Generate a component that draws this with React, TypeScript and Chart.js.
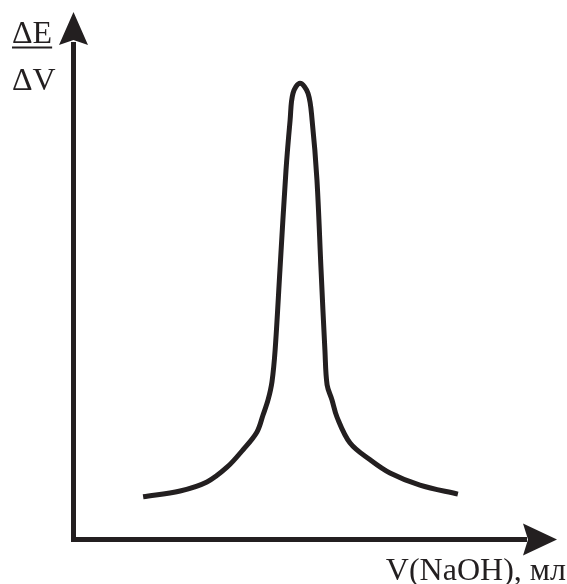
import React, { useEffect, useRef } from "react";
import { Chart, registerables } from "chart.js";

Chart.register(...registerables);

// Volume of NaOH, ml (estimated)
const volumes = [
  2.88, 4.41, 5.52, 6.35, 7.01, 7.59, 7.84, 8.05, 8.21, 8.34, 8.54, 8.79, 8.96, 9.08, 9.37,
  9.7, 9.87, 10.07, 10.24, 10.4, 10.49, 10.69, 10.9, 11.44, 12.27, 13.09, 14.33, 15.9,
];
// ΔE/ΔV values (estimated, arbitrary units)
const dEdV = [
  0.81, 0.92, 1.09, 1.37, 1.7, 2.04, 2.36, 2.65, 2.99, 3.59, 5.11, 7.0, 7.95, 8.46, 8.65,
  8.46, 7.95, 6.82, 5.11, 3.59, 2.93, 2.65, 2.32, 1.83, 1.51, 1.26, 1.03, 0.86,
];
const xRange = [0, 20];
const yRange = [0, 10];
const yLabelTop = "ΔE";
const yLabelBottom = "ΔV";
const xLabel = "V(NaOH), мл";

const INK = "#231f20";

const axesPlugin = {
  id: "arrowAxes",
  beforeDatasetsDraw(chart: any) {
    const { ctx, chartArea } = chart;
    const { left, right, top, bottom } = chartArea;
    ctx.save();
    ctx.strokeStyle = INK;
    ctx.fillStyle = INK;
    ctx.lineWidth = 5;
    ctx.lineCap = "butt";
    // y axis
    ctx.beginPath();
    ctx.moveTo(left, bottom + 2.5);
    ctx.lineTo(left, top + 30);
    ctx.stroke();
    // x axis
    ctx.beginPath();
    ctx.moveTo(left - 2.5, bottom);
    ctx.lineTo(right - 30, bottom);
    ctx.stroke();
    // y arrow head
    ctx.beginPath();
    ctx.moveTo(left, top);
    ctx.lineTo(left + 14.5, top + 33);
    ctx.lineTo(left, top + 28);
    ctx.lineTo(left - 14.5, top + 33);
    ctx.closePath();
    ctx.fill();
    // x arrow head
    ctx.beginPath();
    ctx.moveTo(right, bottom);
    ctx.lineTo(right - 34, bottom - 16);
    ctx.lineTo(right - 29, bottom);
    ctx.lineTo(right - 34, bottom + 16);
    ctx.closePath();
    ctx.fill();

    // labels
    ctx.font = "32px 'Liberation Serif', 'DejaVu Serif', serif";
    ctx.textBaseline = "alphabetic";
    ctx.textAlign = "left";
    ctx.fillText(yLabelTop, 12, 43);
    const w = ctx.measureText(yLabelTop).width;
    ctx.fillRect(12, 46.5, Math.max(w, 40), 2);
    ctx.fillText(yLabelBottom, 12, 90);
    ctx.font = "32px 'Liberation Serif', 'DejaVu Serif', serif";
    ctx.textAlign = "right";
    ctx.fillText(xLabel, 566, 580);
    ctx.restore();
  },
};

export default function App() {
  const ref = useRef<HTMLCanvasElement>(null);
  useEffect(() => {
    document.body.style.margin = "0";
    const chart = new Chart(ref.current!, {
      type: "line",
      data: {
        datasets: [
          {
            data: volumes.map((v, i) => ({ x: v, y: dEdV[i] })),
            borderColor: INK,
            borderWidth: 5,
            pointRadius: 0,
            tension: 0.35,
            fill: false,
          },
        ],
      },
      options: {
        animation: false,
        responsive: false,
        maintainAspectRatio: false,
        layout: { padding: { left: 73.5, right: 10, top: 12, bottom: 44.5 } },
        plugins: { legend: { display: false }, tooltip: { enabled: false } },
        scales: {
          x: { type: "linear", min: xRange[0], max: xRange[1], display: false },
          y: { type: "linear", min: yRange[0], max: yRange[1], display: false },
        },
      },
      plugins: [axesPlugin],
    });
    return () => chart.destroy();
  }, []);
  return (
    <div style={{ width: 567, height: 584, background: "#fff" }}>
      <canvas ref={ref} width={567} height={584} />
    </div>
  );
}
